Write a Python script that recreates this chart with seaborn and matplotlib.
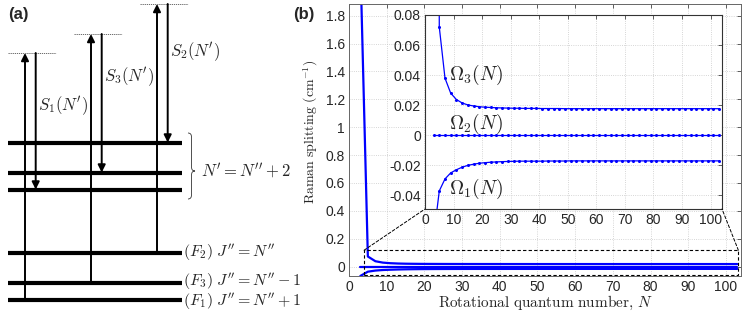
import matplotlib
matplotlib.use("Agg")
import matplotlib.pyplot as plt
import seaborn as sns
from matplotlib.patches import Rectangle, ConnectionPatch, PathPatch
from matplotlib.path import Path
from matplotlib.ticker import FuncFormatter

# rotational quantum number N (odd values only)
n_vals = [3, 5, 7, 9, 11, 13, 15, 17, 19, 21, 23, 25, 27, 29, 31, 33, 35, 37, 39, 41,
          43, 45, 47, 49, 51, 53, 55, 57, 59, 61, 63, 65, 67, 69, 71, 73, 75, 77, 79, 81,
          83, 85, 87, 89, 91, 93, 95, 97, 99, 101, 103]

# Raman splittings in cm^-1
omega3 = [2.2, 0.072, 0.038, 0.028, 0.0238, 0.0215, 0.0202, 0.0195, 0.0190, 0.0187,
          0.0185, 0.0183, 0.0182, 0.0181, 0.0180, 0.0180, 0.0179, 0.0179, 0.0179, 0.0178,
          0.0178, 0.0178, 0.0178, 0.0177, 0.0177, 0.0177, 0.0177, 0.0177, 0.0177, 0.0177,
          0.0177, 0.0177, 0.0177, 0.0177, 0.0177, 0.0177, 0.0177, 0.0177, 0.0177, 0.0177,
          0.0177, 0.0177, 0.0177, 0.0177, 0.0177, 0.0177, 0.0177, 0.0177, 0.0177, 0.0177,
          0.0177]
omega2 = [0.0, 0.0, 0.0, 0.0, 0.0, 0.0, 0.0, 0.0, 0.0, 0.0, 0.0, 0.0, 0.0, 0.0, 0.0,
          0.0, 0.0, 0.0, 0.0, 0.0, 0.0, 0.0, 0.0, 0.0, 0.0, 0.0, 0.0, 0.0, 0.0, 0.0, 0.0,
          0.0, 0.0, 0.0, 0.0, 0.0, 0.0, 0.0, 0.0, 0.0, 0.0, 0.0, 0.0, 0.0, 0.0, 0.0, 0.0,
          0.0, 0.0, 0.0, 0.0]
omega1 = [-0.068, -0.037, -0.029, -0.025, -0.0229, -0.0212, -0.0200, -0.0192, -0.0186,
          -0.0182, -0.0179, -0.0177, -0.0175, -0.0174, -0.0173, -0.0172, -0.0172, -0.0172,
          -0.0172, -0.0172, -0.0171, -0.0171, -0.0171, -0.0171, -0.0170, -0.0170, -0.0170,
          -0.0170, -0.0170, -0.0170, -0.0170, -0.0170, -0.0170, -0.0170, -0.0170, -0.0170,
          -0.0170, -0.0170, -0.0170, -0.0170, -0.0170, -0.0170, -0.0170, -0.0170, -0.0170,
          -0.0170, -0.0170, -0.0170, -0.0170, -0.0170, -0.0170]

main_xticks = [0, 10, 20, 30, 40, 50, 60, 70, 80, 90, 100]
main_yticks = [0, 0.2, 0.4, 0.6, 0.8, 1.0, 1.2, 1.4, 1.6, 1.8]
inset_yticks = [-0.04, -0.02, 0, 0.02, 0.04, 0.06, 0.08]

omega_labels = [r"$\Omega_3(N)$", r"$\Omega_2(N)$", r"$\Omega_1(N)$"]
level_labels = [r"$(F_2)\ J'' = N''$", r"$(F_3)\ J'' = N'' - 1$", r"$(F_1)\ J'' = N'' + 1$"]
stokes_labels = [r"$S_1(N')$", r"$S_3(N')$", r"$S_2(N')$"]

sns.set_style("white")
plt.rcParams['font.family'] = ['Liberation Sans', 'DejaVu Sans']
plt.rcParams['mathtext.fontset'] = 'cm'
plt.rcParams['axes.unicode_minus'] = False

W, H = 747, 312
fig = plt.figure(figsize=(W / 100, H / 100), dpi=100)


def fig_box(left, top, right, bottom):
    return [left / W, 1 - bottom / H, (right - left) / W, (bottom - top) / H]


# ---------------- panel (a): level scheme ----------------
axa = fig.add_axes([0, 0, 330 / W, 1])
axa.set_xlim(0, 330)
axa.set_ylim(H, 0)
axa.axis('off')

upper_levels = [142.5, 172.5, 189.5]
lower_levels = [252.5, 282.5, 299.5]
for y in upper_levels + lower_levels:
    axa.plot([8, 182], [y, y], color='black', lw=3, solid_capstyle='butt')

# (x_up, x_down, start level, virtual level, end level, label y)
transitions = [(25, 35.7, lower_levels[2], 53, upper_levels[2], 106),
               (91, 101.7, lower_levels[1], 34, upper_levels[1], 77),
               (157, 167.7, lower_levels[0], 4, upper_levels[0], 52)]
for (xu, xd, y0, yv, y1, ly), lab in zip(transitions, stokes_labels):
    axa.annotate('', xy=(xu, yv), xytext=(xu, y0),
                 arrowprops=dict(arrowstyle='-|>', color='black', lw=1.4,
                                 mutation_scale=11, shrinkA=0, shrinkB=0))
    axa.annotate('', xy=(xd, y1), xytext=(xd, yv),
                 arrowprops=dict(arrowstyle='-|>', color='black', lw=1.4,
                                 mutation_scale=11, shrinkA=0, shrinkB=0))
    axa.plot([xu - 17, xd + 20], [yv, yv], color='#555555', lw=0.6, ls=(0, (1.5, 1)))
    axa.text(xd + 2, ly, lab, fontsize=12, ha='left', va='center')

# curly brace for the N' manifold
x0, w, yt, yb, ym, r = 188, 7, 133, 199, 171, 4
verts = [(x0, yt), (x0 + w / 2, yt), (x0 + w / 2, yt + r),
         (x0 + w / 2, ym - r),
         (x0 + w / 2, ym), (x0 + w, ym),
         (x0 + w / 2, ym), (x0 + w / 2, ym + r),
         (x0 + w / 2, yb - r),
         (x0 + w / 2, yb), (x0, yb)]
codes = [Path.MOVETO, Path.CURVE3, Path.CURVE3, Path.LINETO, Path.CURVE3, Path.CURVE3,
         Path.CURVE3, Path.CURVE3, Path.LINETO, Path.CURVE3, Path.CURVE3]
axa.add_patch(PathPatch(Path(verts, codes), fill=False, lw=0.6, color='#333333'))
axa.text(201, ym, r"$N' = N'' + 2$", fontsize=12, ha='left', va='center')

for y, dy, lab in zip(lower_levels, [0, -1, 1.5], level_labels):
    axa.text(183, y + dy, lab, fontsize=11.5, ha='left', va='center')

axa.text(8, 15, "(a)", fontsize=12, fontweight='bold', ha='left', va='center')
fig.text(293 / W, 1 - 15 / H, "(b)", fontsize=12, fontweight='bold', ha='left', va='center')

# ---------------- panel (b): main axes ----------------
fmt = FuncFormatter(lambda v, p: "%g" % round(v, 4))
grid_kw = dict(color='#c8c8c8', lw=0.6, ls=':')

ax = fig.add_axes(fig_box(349, 4, 741, 276))
for series in [omega3, omega2, omega1]:
    sns.lineplot(x=n_vals, y=series, ax=ax, color='blue', lw=1.6)
ax.set_xlim(0, 104)
ax.set_ylim(-0.068, 1.884)
ax.set_xticks(main_xticks)
ax.set_yticks(main_yticks)
ax.yaxis.set_major_formatter(fmt)
ax.grid(True, **grid_kw)
ax.tick_params(direction='in', length=3, width=0.6, labelsize=10, top=True, right=True,
               color='#444444', pad=3)
for s in ax.spines.values():
    s.set_color('#666666')
    s.set_linewidth(0.7)
ax.set_xlabel(r"$\mathrm{Rotational\ quantum\ number,}\,N$", fontsize=11)
ax.set_ylabel(r"$\mathrm{Raman\ splitting\ (cm^{-1})}$", fontsize=10)
ax.xaxis.set_label_coords(0.5, -0.066)
ax.yaxis.set_label_coords(-0.075, 0.53)

# zoom rectangle
ax.add_patch(Rectangle((4, -0.062), 99.3, 0.179, fill=False, ec='black', lw=0.8,
                       ls=(0, (3, 2)), zorder=5))

# ---------------- inset ----------------
axi = fig.add_axes(fig_box(425, 15, 722, 209))
axi.set_facecolor('white')
for series in [omega3, omega2, omega1]:
    sns.lineplot(x=n_vals, y=series, ax=axi, color='blue', lw=0.9, marker='o',
                 markersize=2.2, markeredgewidth=0)
axi.set_xlim(0, 104)
axi.set_ylim(-0.049, 0.08)
axi.set_xticks(main_xticks)
axi.set_yticks(inset_yticks)
axi.yaxis.set_major_formatter(fmt)
axi.grid(True, **grid_kw)
axi.tick_params(direction='in', length=3, width=0.6, labelsize=10, top=True, right=True,
                color='#444444', pad=3)
for s in axi.spines.values():
    s.set_color('#333333')
    s.set_linewidth(0.8)

axi.text(8.5, 0.040, omega_labels[0], fontsize=14, ha='left', va='center')
axi.text(8.5, 0.0075, omega_labels[1], fontsize=14, ha='left', va='center')
axi.text(8.5, -0.0355, omega_labels[2], fontsize=14, ha='left', va='center')

for xa, xb in [(4, 0), (103.3, 1)]:
    con = ConnectionPatch(xyA=(xa, 0.117), coordsA=ax.transData,
                          xyB=(xb, 0), coordsB=axi.transAxes,
                          color='black', lw=0.7, ls=(0, (3, 2)))
    fig.add_artist(con)

fig.savefig("out.png", dpi=100)
